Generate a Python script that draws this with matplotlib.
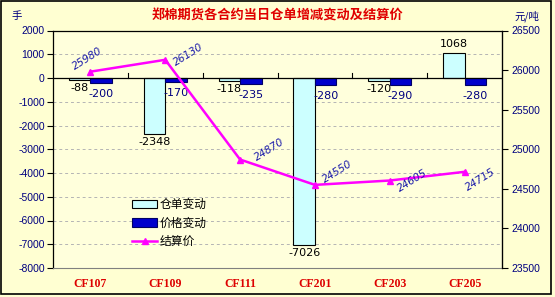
import matplotlib
matplotlib.use("Agg")
import matplotlib.pyplot as plt
from matplotlib.patches import Rectangle, Patch
from matplotlib.lines import Line2D
import numpy as np

plt.rcParams['font.family'] = ['Noto Sans CJK SC', 'DejaVu Sans']

categories = ["CF107", "CF109", "CF111", "CF201", "CF203", "CF205"]
warrant_change = [-88, -2348, -118, -7026, -120, 1068]
price_change = [-200, -170, -235, -280, -290, -280]
settle_price = [25980, 26130, 24870, 24550, 24605, 24715]
left_ticks = [-8000, -7000, -6000, -5000, -4000, -3000, -2000, -1000, 0, 1000, 2000]
right_ticks = [23500, 24000, 24500, 25000, 25500, 26000, 26500]

# label offsets (pixels) for line labels
line_label_offsets = [(-3, 13), (23, 5), (29, 10), (22, 13), (23, 0), (16, -8)]

W, H = 555, 297
fig = plt.figure(figsize=(W / 100, H / 100), dpi=100)
fig.patch.set_facecolor('#FFFFD2')

L, R, T, B = 53, 502, 30.5, 268
ax = fig.add_axes([L / W, 1 - B / H, (R - L) / W, (B - T) / H])
ax.set_facecolor('#FFFFDC')
ax2 = ax.twinx()

x = np.arange(len(categories))
bw = 0.288
cyan = '#CCFFFF'
blue = '#0000CC'
navy = '#000080'

ax.bar(x - bw / 2, warrant_change, bw, color=cyan, edgecolor='black', linewidth=0.8, zorder=3)
ax.bar(x + bw / 2, price_change, bw, color=blue, edgecolor='#000066', linewidth=0.8, zorder=3)

ax.set_xlim(-0.5, len(categories) - 0.5)
ax.set_ylim(-8000, 2000)
ax.set_yticks(left_ticks)
ax.set_yticklabels([str(v) for v in left_ticks], color=navy, fontsize=7.5, family='Liberation Sans')
ax.tick_params(axis='y', direction='out', length=4, width=0.8, color='black', pad=2)
for v in left_ticks[1:-1]:
    if v != 0:
        ax.axhline(v, color='#B4B4B4', linestyle=(0, (3, 3)), linewidth=0.7, zorder=1)
ax.axhline(0, color='black', linewidth=0.9, zorder=4)
for i in range(len(categories) - 1):
    ax.plot([i + 0.5, i + 0.5], [0, 210], color='black', linewidth=0.8, zorder=4)

ax.set_xticks(x)
ax.set_xticklabels(categories, color='#DD0000', fontsize=8.5, family='Liberation Serif', fontweight='bold')
ax.tick_params(axis='x', length=0, pad=7)

for s in ['left', 'top']:
    ax.spines[s].set_color('black')
    ax.spines[s].set_linewidth(0.9)
ax.spines['bottom'].set_color('#808080')
ax.spines['right'].set_color('black')

# bar value labels
for xi, v in zip(x, warrant_change):
    if v < 0:
        ax.annotate(str(v), (xi - bw / 2, v), xytext=(0, -3), textcoords='offset pixels',
                    ha='center', va='top', fontsize=8, color='black', family='DejaVu Sans', zorder=6)
    else:
        ax.annotate(str(v), (xi - bw / 2, v), xytext=(0, 4), textcoords='offset pixels',
                    ha='center', va='bottom', fontsize=8, color='black', family='DejaVu Sans', zorder=6)
for xi, v in zip(x, price_change):
    ax.annotate(str(v), (xi + bw / 2, v), xytext=(0, -6), textcoords='offset pixels',
                ha='center', va='top', fontsize=8, color=navy, family='DejaVu Sans', zorder=6)

# line
ax2.plot(x, settle_price, color='#FF00FF', linewidth=1.8, marker='^', markersize=5,
         markerfacecolor='#FF00FF', markeredgecolor='#FF00FF', zorder=5)
ax2.set_ylim(23500, 26500)
ax2.set_yticks(right_ticks)
ax2.set_yticklabels([str(v) for v in right_ticks], color=navy, fontsize=7.5, family='Liberation Sans')
ax2.tick_params(axis='y', direction='out', length=4, width=0.8, pad=3)
for s in ['left', 'top', 'bottom']:
    ax2.spines[s].set_visible(False)
ax2.spines['right'].set_color('black')
ax2.spines['right'].set_linewidth(0.9)
for xi, v, (dx, dy) in zip(x, settle_price, line_label_offsets):
    ax2.annotate(str(v), (xi, v), xytext=(dx, dy), textcoords='offset pixels',
                 ha='center', va='center', rotation=32, rotation_mode='anchor',
                 fontsize=7.5, color='#1A1AAA', style='italic', family='DejaVu Sans', zorder=6)

# legend
handles = [Patch(facecolor=cyan, edgecolor='black', linewidth=0.8),
           Patch(facecolor=blue, edgecolor='#000066', linewidth=0.8),
           Line2D([0], [0], color='#FF00FF', linewidth=1.8, marker='^', markersize=5)]
fig.legend(handles, ["仓单变动", "价格变动", "结算价"], loc='upper left',
           bbox_to_anchor=(124 / W, 1 - 190 / H), frameon=False, fontsize=8.5,
           handlelength=2.1, handleheight=0.75, labelspacing=0.45, handletextpad=0.25,
           borderpad=0.2)

# titles
fig.text(277 / W, 1 - 16 / H, "郑棉期货各合约当日仓单增减变动及结算价", ha='center', va='center',
         color='#E00000', fontsize=9.5, fontweight='bold')
fig.text(12 / W, 1 - 16 / H, "手", ha='left', va='center', color=navy, fontsize=7.5)
fig.text(514 / W, 1 - 16 / H, "元/吨", ha='left', va='center', color=navy, fontsize=7.5)

# figure border
fig.patches.append(Rectangle((1 / W, 3 / H), 550 / W, 293 / H, transform=fig.transFigure,
                             fill=False, edgecolor='black', linewidth=1.2))

fig.savefig('out.png', dpi=100, facecolor=fig.get_facecolor())
